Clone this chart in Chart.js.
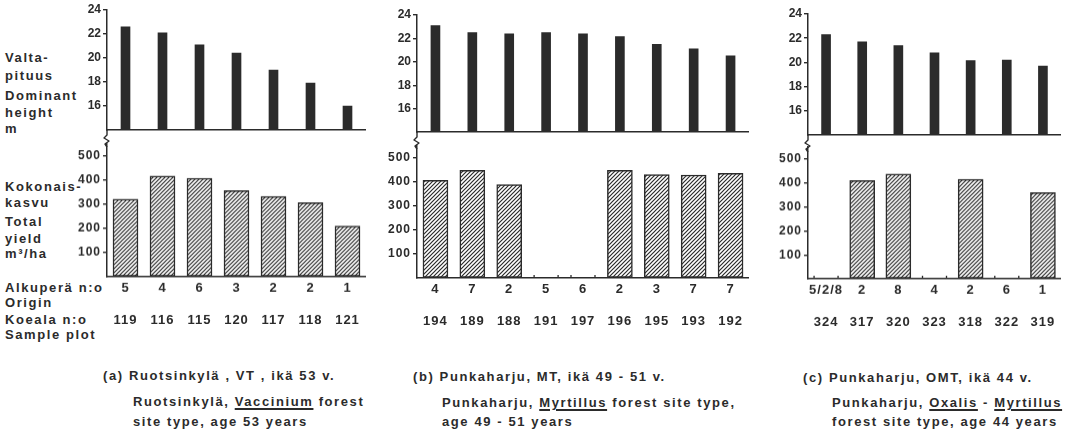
<!DOCTYPE html>
<html>
<head>
<meta charset="utf-8">
<script src="https://cdn.jsdelivr.net/npm/chart.js@4"></script>
<style>
  body { margin: 0; width: 1072px; height: 435px; position: relative; overflow: hidden; background: #fff;
         font-family: "Liberation Sans", Arial, sans-serif; font-weight: bold; color: #2b2b2b; }
  canvas { position: absolute; }
  .t { position: absolute; font-size: 13px; line-height: 16px; letter-spacing: 1.6px; white-space: nowrap; }
  u { text-decoration-thickness: 1.5px; text-underline-offset: 2px; }
</style>
</head>
<body>
<div class="t" style="left:5px;top:50px">Valta-</div>
<div class="t" style="left:5px;top:68px">pituus</div>
<div class="t" style="left:5px;top:88px">Dominant</div>
<div class="t" style="left:5px;top:105px">height</div>
<div class="t" style="left:5px;top:121px">m</div>

<div class="t" style="left:5px;top:179px">Kokonais-</div>
<div class="t" style="left:5px;top:195px">kasvu</div>
<div class="t" style="left:5px;top:214px">Total</div>
<div class="t" style="left:5px;top:231px">yield</div>
<div class="t" style="left:5px;top:246px">m³/ha</div>

<div class="t" style="left:5px;top:280px">Alkuperä n:o</div>
<div class="t" style="left:5px;top:295px">Origin</div>
<div class="t" style="left:5px;top:312px">Koeala n:o</div>
<div class="t" style="left:5px;top:327px">Sample plot</div>

<div class="t" style="left:103px;top:368px">(a) Ruotsinkylä , VT , ikä 53 v.</div>
<div class="t" style="left:133px;top:394px">Ruotsinkylä, <u>Vaccinium</u> forest</div>
<div class="t" style="left:133px;top:414px">site type, age 53 years</div>

<div class="t" style="left:413px;top:369px">(b) Punkaharju, MT, ikä 49 - 51 v.</div>
<div class="t" style="left:442px;top:395px">Punkaharju, <u>Myrtillus</u> forest site type,</div>
<div class="t" style="left:442px;top:414px">age 49 - 51 years</div>

<div class="t" style="left:803px;top:370px">(c) Punkaharju, OMT, ikä 44 v.</div>
<div class="t" style="left:832px;top:395px">Punkaharju, <u>Oxalis</u> - <u>Myrtillus</u></div>
<div class="t" style="left:832px;top:414px">forest site type, age 44 years</div>

<script>
// dominant height (m) per sample plot
const heightA = [22.6, 22.1, 21.1, 20.4, 19.0, 17.9, 16.0];
const heightB = [23.1, 22.5, 22.4, 22.5, 22.4, 22.15, 21.5, 21.1, 20.5];
const heightC = [22.3, 21.7, 21.4, 20.8, 20.15, 20.2, 19.7];

// total yield (m3/ha), null = not measured
const yieldA = [322, 418, 409, 357, 333, 307, 210];
const yieldB = [408, 449, 390, null, null, 449, 432, 430, 437];
const yieldC = [null, 411, 438, null, 416, null, 360];

// origin numbers and sample plot numbers
const originA = ['5', '4', '6', '3', '2', '2', '1'];
const originB = ['4', '7', '2', '5', '6', '2', '3', '7', '7'];
const originC = ['5/2/8', '2', '8', '4', '2', '6', '1'];
const plotA = ['119', '116', '115', '120', '117', '118', '121'];
const plotB = ['194', '189', '188', '191', '197', '196', '195', '193', '192'];
const plotC = ['324', '317', '320', '323', '318', '322', '319'];

const heightTicks = [16, 18, 20, 22, 24];
const yieldTicks = [100, 200, 300, 400, 500];

const INK = '#2b2b2b';
const FONT = '"Liberation Sans", Arial, sans-serif';
const AXW = 36;   // fixed y axis width
const XH = 52;    // fixed x axis height under the yield charts

const panels = [
	{ heights: heightA, yields: yieldA, origin: originA, plots: plotA, axX: 107, axR: 366, hTop: 10, hBot: 130, y0: 277, k: 24.3 },
	{ heights: heightB, yields: yieldB, origin: originB, plots: plotB, axX: 417, axR: 749, hTop: 15, hBot: 132, y0: 278, k: 24.2 },
	{ heights: heightC, yields: yieldC, origin: originC, plots: plotC, axX: 808, axR: 1061, hTop: 14, hBot: 135, y0: 279, k: 24.1 },
];

const hatch = (() => {
	const c = document.createElement('canvas');
	c.width = 4; c.height = 4;
	const g = c.getContext('2d');
	g.fillStyle = '#fff';
	g.fillRect(0, 0, 4, 4);
	g.strokeStyle = INK;
	g.lineWidth = 1.2;
	g.beginPath();
	g.moveTo(0, 4); g.lineTo(4, 0);
	g.moveTo(-1, 1); g.lineTo(1, -1);
	g.moveTo(3, 5); g.lineTo(5, 3);
	g.stroke();
	return g.createPattern(c, 'repeat');
})();

// wider letter spacing for the canvas texts, like the printed figure
const spacing = {
	id: 'spacing',
	beforeDraw(chart) { chart.ctx.letterSpacing = '1px'; },
};

// squiggle under the height axis (axis break)
const breakMark = {
	id: 'breakMark',
	afterDraw(chart) {
		const { left, bottom } = chart.chartArea;
		const ctx = chart.ctx;
		ctx.save();
		ctx.strokeStyle = INK;
		ctx.lineWidth = 1.4;
		ctx.lineJoin = 'round';
		ctx.beginPath();
		ctx.moveTo(left, bottom);
		ctx.lineTo(left, bottom + 5);
		ctx.lineTo(left - 3, bottom + 8);
		ctx.lineTo(left + 2, bottom + 11);
		ctx.lineTo(left - 2, bottom + 14);
		ctx.lineTo(left, bottom + 17);
		ctx.stroke();
		ctx.restore();
	},
};

// little marks on the baseline where a yield bar is missing
const emptyMarks = {
	id: 'emptyMarks',
	afterDatasetsDraw(chart) {
		const xs = chart.scales.x, ys = chart.scales.y, ctx = chart.ctx;
		const base = ys.getPixelForValue(0);
		ctx.save();
		ctx.strokeStyle = INK;
		ctx.lineWidth = 1.3;
		chart.data.datasets[0].data.forEach((v, i) => {
			if (v !== null) return;
			const x = xs.getPixelForValue(i);
			ctx.beginPath();
			ctx.moveTo(x - 12, base); ctx.lineTo(x - 12, base - 3);
			ctx.moveTo(x + 12, base); ctx.lineTo(x + 12, base - 3);
			ctx.stroke();
		});
		ctx.restore();
	},
};

const addCanvas = (left, top, w, h) => {
	const cv = document.createElement('canvas');
	cv.width = w; cv.height = h;
	cv.style.left = left + 'px';
	cv.style.top = top + 'px';
	cv.style.width = w + 'px';
	cv.style.height = h + 'px';
	document.body.appendChild(cv);
	return cv;
};

const yAxis = (min, max, ticks) => ({
	min: min,
	max: max,
	afterFit: (s) => { s.width = AXW; },
	afterBuildTicks: (s) => { s.ticks = [min].concat(ticks).map((v) => ({ value: v })); },
	ticks: {
		padding: 2,
		color: INK,
		font: { family: FONT, size: 12, weight: 'bold' },
		callback: (v) => (v === min ? '' : v),
	},
	grid: {
		drawOnChartArea: false,
		tickLength: 4,
		lineWidth: 1.4,
		color: (c) => (c.tick && c.tick.value === min ? 'rgba(0,0,0,0)' : INK),
	},
	border: { color: INK, width: 1.5 },
});

const heightChart = (p) => {
	const w = p.axR - p.axX + AXW;
	const h = p.hBot - p.hTop + 10 + 22;
	const cv = addCanvas(p.axX - AXW, p.hTop - 10, w, h);
	return new Chart(cv, {
		type: 'bar',
		data: {
			labels: p.plots,
			datasets: [{ data: p.heights, backgroundColor: INK, barThickness: 9 }],
		},
		options: {
			responsive: false,
			animation: false,
			layout: { padding: { top: 10, bottom: 22, left: 0, right: 0 } },
			plugins: { legend: { display: false }, tooltip: { enabled: false } },
			scales: {
				x: {
					grid: { display: false, drawTicks: false },
					ticks: { display: false },
					border: { color: INK, width: 1.5 },
				},
				y: yAxis(14, 24, heightTicks),
			},
		},
		plugins: [breakMark],
	});
};

const yieldChart = (p) => {
	const top = p.y0 - 5.5 * p.k;
	const w = p.axR - p.axX + AXW;
	const h = p.y0 - top + 8 + XH;
	const cv = addCanvas(p.axX - AXW, top - 8, w, h);
	return new Chart(cv, {
		type: 'bar',
		data: {
			labels: p.origin.map((o, i) => [o, '', p.plots[i]]),
			datasets: [{
				data: p.yields,
				backgroundColor: hatch,
				borderColor: INK,
				borderWidth: 1.5,
				borderSkipped: false,
				barThickness: 25,
			}],
		},
		options: {
			responsive: false,
			animation: false,
			layout: { padding: { top: 8, bottom: 0, left: 0, right: 0 } },
			plugins: { legend: { display: false }, tooltip: { enabled: false } },
			scales: {
				x: {
					afterFit: (s) => { s.height = XH; },
					grid: { display: false, drawTicks: false },
					ticks: {
						padding: 4,
						color: INK,
						autoSkip: false,
						maxRotation: 0,
						font: { family: FONT, size: 13, weight: 'bold', lineHeight: 1.2 },
					},
					border: { color: INK, width: 1.5 },
				},
				y: yAxis(0, 550, yieldTicks),
			},
		},
		plugins: [spacing, emptyMarks],
	});
};

panels.forEach((p) => {
	heightChart(p);
	yieldChart(p);
});
</script>
</body>
</html>
